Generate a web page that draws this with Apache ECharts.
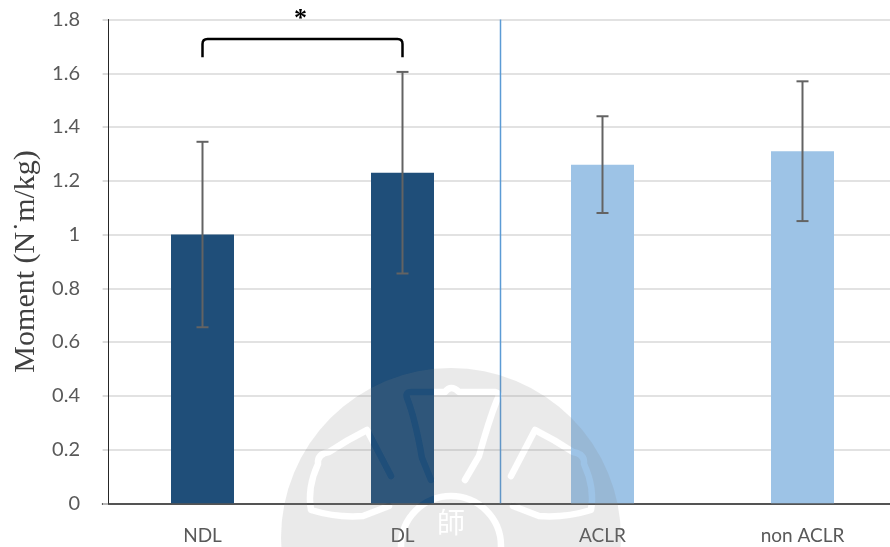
<!DOCTYPE html>
<html>
<head>
<meta charset="utf-8">
<script src="https://cdn.jsdelivr.net/npm/echarts@6/dist/echarts.min.js"></script>
<style>
  html, body { margin: 0; padding: 0; background: #fff; }
  #chart { width: 890px; height: 547px; }
</style>
</head>
<body>
<div id="chart"></div>
<script>
// Knee moment by limb group
const categories = ['NDL', 'DL', 'ACLR', 'non ACLR'];
const means = [1.00, 1.23, 1.26, 1.31];
const errLow = [0.655, 0.855, 1.08, 1.05];
const errHigh = [1.345, 1.605, 1.44, 1.57];
const barColors = ['#1F4E79', '#1F4E79', '#9DC3E6', '#9DC3E6'];

// Significance bracket between NDL and DL
const bracketPair = [0, 1];
const bracketTop = 1.727;
const bracketFoot = 1.66;
const sigMark = '*';

// Divider between the two comparison groups
const dividerBetween = [1, 2];

const chart = echarts.init(document.getElementById('chart'));

const labelFont = 'Lato, "Open Sans", sans-serif';

// Faint seal emblem: a grey disc with the emblem lines cut out of it,
// painted once on an offscreen canvas and placed as an image.
function makeSeal(r) {
  const size = r * 2;
  const cv = document.createElement('canvas');
  cv.width = size; cv.height = size;
  const ctx = cv.getContext('2d');
  ctx.translate(r, r);
  ctx.fillStyle = 'rgba(129,129,129,0.17)';
  ctx.beginPath(); ctx.arc(0, 0, r, 0, Math.PI * 2); ctx.fill();

  ctx.globalCompositeOperation = 'destination-out';
  ctx.strokeStyle = '#000';
  ctx.fillStyle = '#000';
  ctx.lineWidth = 6.5;
  ctx.lineJoin = 'round';
  ctx.lineCap = 'round';
  const paths = [
    // top bell
    'M-20 -58 L-29 -80 Q-36 -120 -44 -140 Q-46 -146 -40 -146 L-6 -146 Q0 -154 8 -146 L44 -146 Q50 -145 46 -138 Q38 -118 28 -82 L14 -58',
    // left petal
    'M-60 -62 L-84 -108 Q-104 -98 -122 -86 Q-134 -84 -133 -74 Q-144 -50 -140 -28 Q-114 -20 -88 -22 L-62 -32',
    // right petal
    'M60 -62 L84 -108 Q104 -98 122 -86 Q134 -84 133 -74 Q144 -50 140 -28 Q114 -20 88 -22 L62 -32'
  ];
  paths.forEach(p => ctx.stroke(new Path2D(p)));
  ctx.beginPath(); ctx.arc(0, 8, 50, 0, Math.PI * 2); ctx.stroke();
  ctx.font = '28px "Noto Sans CJK TC", sans-serif';
  ctx.textAlign = 'center';
  ctx.textBaseline = 'middle';
  ctx.fillText('師', 0, -16);
  return cv;
}

const sealR = 170;
const seal = makeSeal(sealR);

chart.setOption({
  animation: false,
  backgroundColor: '#ffffff',
  grid: { left: 102.5, width: 800, top: 19.5, bottom: 43.7, containLabel: false, outerBoundsMode: 'none' },
  xAxis: {
    type: 'category',
    data: categories,
    axisLine: { lineStyle: { color: '#262626', width: 1.5 } },
    axisTick: { show: false },
    axisLabel: { color: '#595959', fontSize: 19, fontFamily: labelFont, margin: 23 }
  },
  yAxis: {
    type: 'value',
    min: 0, max: 1.8, interval: 0.2,
    offset: -5.5,
    name: 'Moment (N\u02D9m/kg)',
    nameLocation: 'middle',
    nameGap: 65,
    nameTextStyle: { fontFamily: '"Liberation Serif", "DejaVu Serif", serif', fontSize: 30, color: '#404040' },
    axisLine: { show: true, lineStyle: { color: '#262626', width: 1 } },
    axisTick: { show: true, length: 5, lineStyle: { color: '#d9d9d9', width: 1.5 } },
    axisLabel: { color: '#595959', fontSize: 20, fontFamily: labelFont, margin: 28 },
    splitLine: { lineStyle: { color: '#d9d9d9', width: 1.5 } }
  },
  graphic: [{
    type: 'image',
    left: 451 - sealR, top: 538 - sealR,
    z: 100,
    silent: true,
    style: { image: seal, width: sealR * 2, height: sealR * 2 }
  }],
  series: [
    {
      type: 'bar',
      barWidth: 63,
      data: means.map((v, i) => ({ value: v, itemStyle: { color: barColors[i] } })),
      z: 2
    },
    {
      // error bars
      type: 'custom',
      z: 3,
      data: categories.map((c, i) => [i, errLow[i], errHigh[i]]),
      renderItem: function (params, api) {
        const lo = api.coord([api.value(0), api.value(1)]);
        const hi = api.coord([api.value(0), api.value(2)]);
        const half = 6;
        const style = { stroke: '#636363', lineWidth: 2 };
        return {
          type: 'group',
          children: [
            { type: 'line', shape: { x1: lo[0], y1: lo[1], x2: hi[0], y2: hi[1] }, style: style },
            { type: 'line', shape: { x1: lo[0] - half, y1: lo[1], x2: lo[0] + half, y2: lo[1] }, style: style },
            { type: 'line', shape: { x1: hi[0] - half, y1: hi[1], x2: hi[0] + half, y2: hi[1] }, style: style }
          ]
        };
      }
    },
    {
      // significance bracket
      type: 'custom',
      z: 4,
      clip: false,
      data: [[bracketPair[0], bracketPair[1], bracketTop, bracketFoot]],
      renderItem: function (params, api) {
        const a = api.coord([api.value(0), api.value(2)]);
        const b = api.coord([api.value(1), api.value(2)]);
        const foot = api.coord([api.value(0), api.value(3)])[1];
        const r = 5;
        const y = a[1];
        const path = 'M' + a[0] + ' ' + foot +
          ' L' + a[0] + ' ' + (y + r) +
          ' Q' + a[0] + ' ' + y + ' ' + (a[0] + r) + ' ' + y +
          ' L' + (b[0] - r) + ' ' + y +
          ' Q' + b[0] + ' ' + y + ' ' + b[0] + ' ' + (y + r) +
          ' L' + b[0] + ' ' + foot;
        return {
          type: 'group',
          children: [
            { type: 'path', shape: { pathData: path }, style: { stroke: '#000', lineWidth: 2.5, fill: null } },
            {
              type: 'text',
              x: (a[0] + b[0]) / 2 - 2, y: y - 20,
              style: {
                text: sigMark, fill: '#000', font: 'bold 26px "Liberation Serif", serif',
                align: 'center', verticalAlign: 'middle'
              }
            }
          ]
        };
      }
    },
    {
      // group divider
      type: 'custom',
      z: 4,
      data: [[dividerBetween[0], dividerBetween[1]]],
      renderItem: function (params, api) {
        const top = api.coord([api.value(0), 1.8]);
        const bottom = api.coord([api.value(0), 0]);
        const other = api.coord([api.value(1), 0]);
        const x = (bottom[0] + other[0]) / 2 - 2;
        return {
          type: 'line',
          shape: { x1: x, y1: top[1], x2: x, y2: bottom[1] },
          style: { stroke: '#5B9BD5', lineWidth: 1.5 }
        };
      }
    }
  ]
});
</script>
</body>
</html>
